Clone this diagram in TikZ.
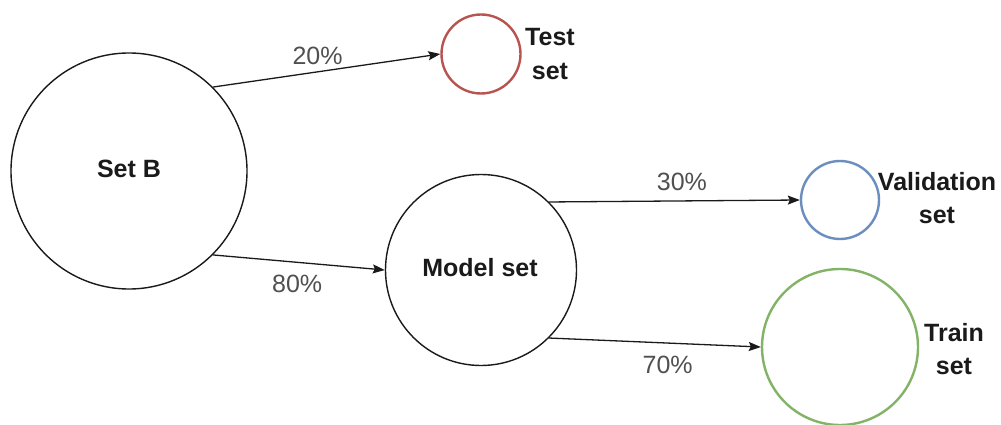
\documentclass[tikz,border=0pt]{standalone}
\usepackage{fontspec}
\setmainfont{Liberation Sans}
\usetikzlibrary{arrows.meta}
\definecolor{redline}{HTML}{B85450}
\definecolor{blueline}{HTML}{6C8EBF}
\definecolor{greenline}{HTML}{82B366}
\definecolor{pctgray}{HTML}{505050}
\definecolor{ink}{HTML}{1A1A1A}
\begin{document}
\begin{tikzpicture}[x=1pt,y=-1pt,
  setcircle/.style={circle,draw=ink,line width=1.4pt,inner sep=0pt,minimum size=#1,font=\fontsize{25}{33}\selectfont\bfseries,text=ink},
  colcircle/.style={circle,draw=#1,line width=2.4pt,inner sep=0pt},
  sidelabel/.style={font=\fontsize{25}{33.5}\selectfont\bfseries,text=ink,align=center,inner sep=0pt},
  pct/.style={font=\fontsize{25}{30}\selectfont,text=pctgray,inner sep=0pt},
  flow/.style={draw=ink,line width=1.3pt,-{Stealth[length=12pt,width=9pt,inset=2pt]}}]
\useasboundingbox (0,0) rectangle (1001,425);
\fill[white] (0,0) rectangle (1001,425);
% circles
\node[setcircle=236pt] (setb) at (129,171) {};
\node[font=\fontsize{25}{33}\selectfont\bfseries,text=ink,inner sep=0pt] (setbtext) at (129,169) {Set B};
\node[setcircle=191pt] (model) at (481,270) {};
\node[font=\fontsize{25}{33}\selectfont\bfseries,text=ink,inner sep=0pt] (modeltext) at (480,268) {Model set};
\node[colcircle=redline,minimum size=79pt] (test) at (481,54) {};
\node[colcircle=blueline,minimum size=78pt] (valid) at (840,200) {};
\node[colcircle=greenline,minimum size=156pt] (train) at (840,347) {};
% side labels
\node[sidelabel] (testlbl) at (550,54) {Test\\set};
\node[sidelabel] (validlbl) at (937,198) {Validation\\set};
\node[sidelabel] (trainlbl) at (954,349) {Train\\set};
% arrows
\draw[flow] (setb.45) -- (test.west) node[pct,pos=0.46,yshift=16pt] (p20) {20\%};
\draw[flow] (setb.-45) -- (model.west) node[pct,pos=0.49,yshift=-22pt] (p80) {80\%};
\draw[flow] (model.45) -- (valid.west) node[pct,pos=0.53,yshift=19pt] (p30) {30\%};
\draw[flow] (model.-45) -- (train.west) node[pct,pos=0.56,yshift=-22pt] (p70) {70\%};
\end{tikzpicture}
\end{document}
